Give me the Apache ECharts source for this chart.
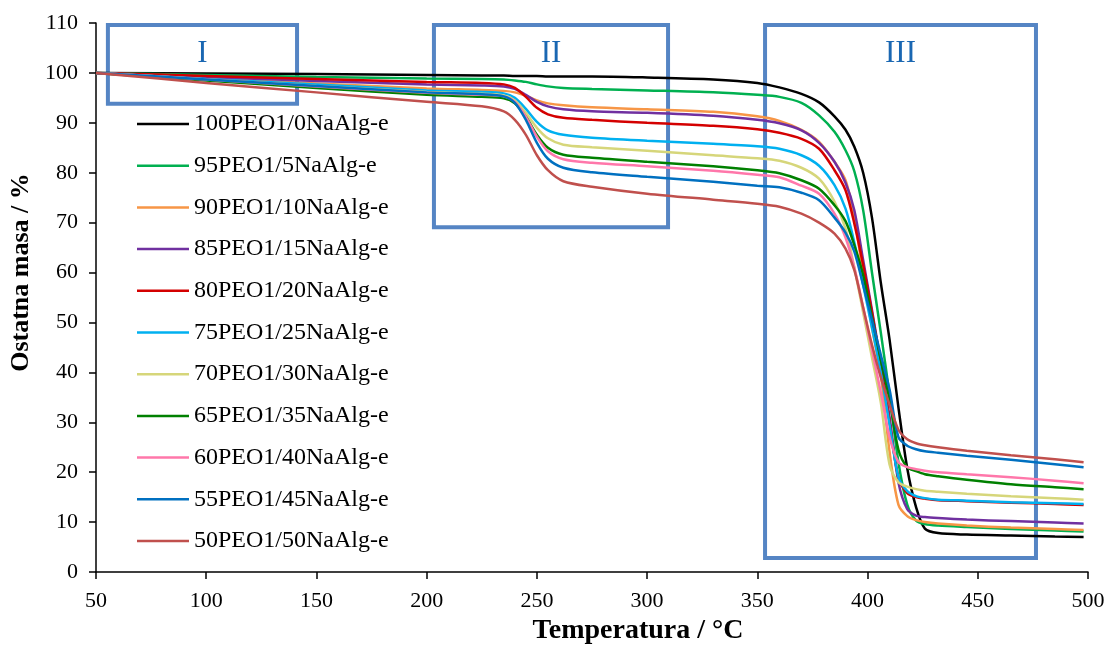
<!DOCTYPE html>
<html>
<head>
<meta charset="utf-8">
<script src="https://cdn.jsdelivr.net/npm/echarts@6/dist/echarts.min.js"></script>
<style>html,body{margin:0;padding:0;background:#fff;}#c{width:1116px;height:652px;}</style>
</head>
<body>
<div id="c"></div>
<script>
const temps = [50, 100, 150, 200, 225, 235, 240, 245, 250, 255, 262, 275, 300, 330, 350, 360, 370, 378, 385, 390, 394, 398, 402, 406, 410, 414, 418, 422, 426, 432, 445, 465, 485, 498];

const names = ['100PEO1/0NaAlg-e','95PEO1/5NaAlg-e','90PEO1/10NaAlg-e','85PEO1/15NaAlg-e','80PEO1/20NaAlg-e','75PEO1/25NaAlg-e','70PEO1/30NaAlg-e','65PEO1/35NaAlg-e','60PEO1/40NaAlg-e','55PEO1/45NaAlg-e','50PEO1/50NaAlg-e'];
const colors = ['#000000','#00b050','#f79646','#7030a0','#d40000','#00b0f0','#d6d67a','#008000','#ff77aa','#0070c0','#c0504d'];

const s100 = [100, 99.9, 99.8, 99.6, 99.5, 99.5, 99.4, 99.4, 99.4, 99.3, 99.3, 99.3, 99.1, 98.7, 98.0, 97.1, 95.8, 94.1, 91.3, 88.6, 85.2, 80.0, 71.0, 58.0, 46.5, 33.0, 20.8, 13.0, 8.7, 7.8, 7.5, 7.3, 7.1, 7.0];
const s95 = [100, 99.6, 99.2, 98.9, 98.8, 98.7, 98.5, 98.2, 97.7, 97.3, 97.0, 96.8, 96.5, 96.1, 95.6, 95.2, 94.0, 91.5, 88.2, 84.5, 80.3, 72.5, 60.0, 48.0, 35.5, 22.0, 13.5, 10.3, 9.6, 9.3, 9.0, 8.6, 8.3, 8.1];
const s90 = [100, 98.9, 97.9, 96.9, 96.6, 96.4, 96.1, 95.4, 94.5, 93.9, 93.5, 93.1, 92.7, 92.2, 91.3, 90.4, 88.6, 86.2, 82.2, 78.5, 71.0, 59.5, 49.0, 39.5, 24.0, 13.5, 11.2, 10.4, 10.0, 9.7, 9.3, 8.9, 8.6, 8.4];
const s85 = [100, 99.2, 98.4, 97.7, 97.5, 97.3, 96.8, 95.6, 94.2, 93.3, 92.7, 92.3, 92.0, 91.4, 90.6, 89.9, 88.5, 86.0, 82.2, 78.0, 72.5, 62.5, 52.5, 42.0, 31.0, 18.0, 12.6, 11.3, 11.0, 10.8, 10.5, 10.2, 9.9, 9.7];
const s80 = [100, 99.4, 98.8, 98.2, 98.0, 97.7, 97.0, 95.2, 93.0, 91.7, 91.0, 90.6, 90.0, 89.4, 88.7, 88.0, 86.8, 84.8, 80.5, 76.5, 69.8, 61.5, 52.0, 41.5, 30.0, 19.0, 15.8, 15.0, 14.7, 14.4, 14.2, 13.9, 13.6, 13.4];
const s75 = [100, 98.8, 97.7, 96.5, 96.2, 95.9, 95.0, 92.8, 90.2, 88.5, 87.6, 87.0, 86.4, 85.8, 85.3, 84.8, 83.5, 81.4, 77.5, 72.8, 66.0, 57.5, 49.0, 40.0, 29.5, 19.0, 16.2, 15.2, 14.8, 14.5, 14.3, 14.0, 13.8, 13.6];
const s70 = [100, 98.7, 97.4, 96.2, 95.8, 95.5, 94.5, 92.0, 89.0, 86.9, 85.6, 85.1, 84.4, 83.5, 82.9, 82.4, 81.0, 78.8, 74.2, 68.8, 61.0, 52.0, 43.0, 34.0, 21.5, 18.0, 17.1, 16.6, 16.3, 16.1, 15.7, 15.2, 14.8, 14.5];
const s65 = [100, 98.5, 97.0, 95.6, 95.2, 94.9, 93.9, 91.2, 87.6, 85.0, 83.6, 83.0, 82.2, 81.3, 80.5, 79.9, 78.5, 76.8, 73.5, 70.3, 65.5, 59.5, 51.0, 42.5, 34.5, 24.5, 21.0, 20.2, 19.6, 19.2, 18.5, 17.6, 17.0, 16.6];
const s60 = [100, 98.7, 97.3, 96.0, 95.6, 95.3, 94.2, 91.2, 87.2, 84.3, 82.7, 82.0, 81.3, 80.4, 79.6, 79.1, 77.4, 75.8, 71.8, 67.0, 61.0, 53.0, 44.5, 36.0, 27.0, 22.0, 21.0, 20.6, 20.3, 20.0, 19.6, 19.0, 18.3, 17.8];
const s55 = [100, 98.7, 97.4, 96.1, 95.7, 95.3, 94.0, 90.6, 86.0, 82.8, 81.0, 80.1, 79.2, 78.2, 77.4, 77.1, 76.0, 74.5, 71.0, 68.0, 64.2, 57.5, 50.5, 43.5, 36.5, 27.0, 25.3, 24.6, 24.2, 23.9, 23.3, 22.5, 21.6, 21.0];
const s50 = [100, 98.0, 96.1, 94.2, 93.3, 92.3, 90.6, 87.6, 83.5, 80.5, 78.3, 77.2, 75.8, 74.6, 73.8, 73.2, 71.8, 70.0, 67.8, 64.8, 60.5, 53.0, 45.5, 39.0, 33.5, 28.5, 26.6, 25.8, 25.4, 25.0, 24.3, 23.4, 22.6, 22.0];

const seriesValues = [s100, s95, s90, s85, s80, s75, s70, s65, s60, s55, s50];

// annotation boxes: [xStart, yTop, xEnd, yBottom]
const regionLabels = ['I', 'II', 'III'];
const regionBoxes = [[55.4, 109.6, 141.2, 93.8], [203.3, 109.6, 309.5, 69.1], [353.5, 109.6, 476.4, 2.8]];

const xTicks = {min: 50, max: 500, interval: 50};
const yTicks = {min: 0, max: 110, interval: 10};

const font = 'Liberation Serif, Times New Roman, serif';

const series = seriesValues.map((vals, i) => ({
  name: names[i],
  type: 'line',
  data: vals.map((v, j) => [temps[j], v]),
  symbol: 'none',
  showSymbol: false,
  smooth: 0.3,
  lineStyle: {width: 2.5, color: colors[i]},
  itemStyle: {color: colors[i]},
  z: 2
}));

series.push({
  name: 'regions',
  type: 'line',
  data: [],
  symbol: 'none',
  z: 10,
  silent: true,
  markArea: {
    silent: true,
    itemStyle: {color: 'rgba(0,0,0,0)', borderColor: '#5585c4', borderWidth: 4},
    label: {show: true, position: 'insideTop', distance: 15, color: '#1a67b2', fontFamily: font, fontSize: 31},
    data: regionBoxes.map((b, i) => [
      {name: regionLabels[i], coord: [b[0], b[1]]},
      {coord: [b[2], b[3]]}
    ])
  }
});

const chart = echarts.init(document.getElementById('c'));
chart.setOption({
  animation: false,
  backgroundColor: '#ffffff',
  grid: {left: 96, right: 28, top: 23, bottom: 80, containLabel: false, outerBoundsMode: 'none'},
  legend: {
    data: names,
    orient: 'vertical',
    left: 137,
    top: 112,
    padding: 0,
    icon: 'rect',
    itemWidth: 52,
    itemHeight: 2.5,
    itemGap: 17.7,
    textStyle: {fontFamily: font, fontSize: 24, color: '#000', lineHeight: 24}
  },
  xAxis: {
    type: 'value',
    min: xTicks.min, max: xTicks.max, interval: xTicks.interval,
    name: 'Temperatura / °C',
    nameLocation: 'middle',
    nameGap: 38,
    nameTextStyle: {fontFamily: font, fontSize: 28, fontWeight: 'bold', color: '#000', padding: [0, 0, 0, 92]},
    axisLine: {show: true, lineStyle: {color: '#000', width: 1.5}},
    axisTick: {show: true, inside: false, length: 7, lineStyle: {color: '#000', width: 1.5}},
    axisLabel: {fontFamily: font, fontSize: 22, color: '#000', margin: 18},
    splitLine: {show: false}
  },
  yAxis: {
    type: 'value',
    min: yTicks.min, max: yTicks.max, interval: yTicks.interval,
    name: 'Ostatna masa / %',
    nameLocation: 'middle',
    nameGap: 61,
    nameTextStyle: {fontFamily: font, fontSize: 26, fontWeight: 'bold', color: '#000', padding: [0, 0, 0, 50]},
    axisLine: {show: true, lineStyle: {color: '#000', width: 1.5}},
    axisTick: {show: true, inside: false, length: 7, lineStyle: {color: '#000', width: 1.5}},
    axisLabel: {fontFamily: font, fontSize: 22, color: '#000', margin: 18},
    splitLine: {show: false}
  },
  series: series
});
</script>
</body>
</html>
